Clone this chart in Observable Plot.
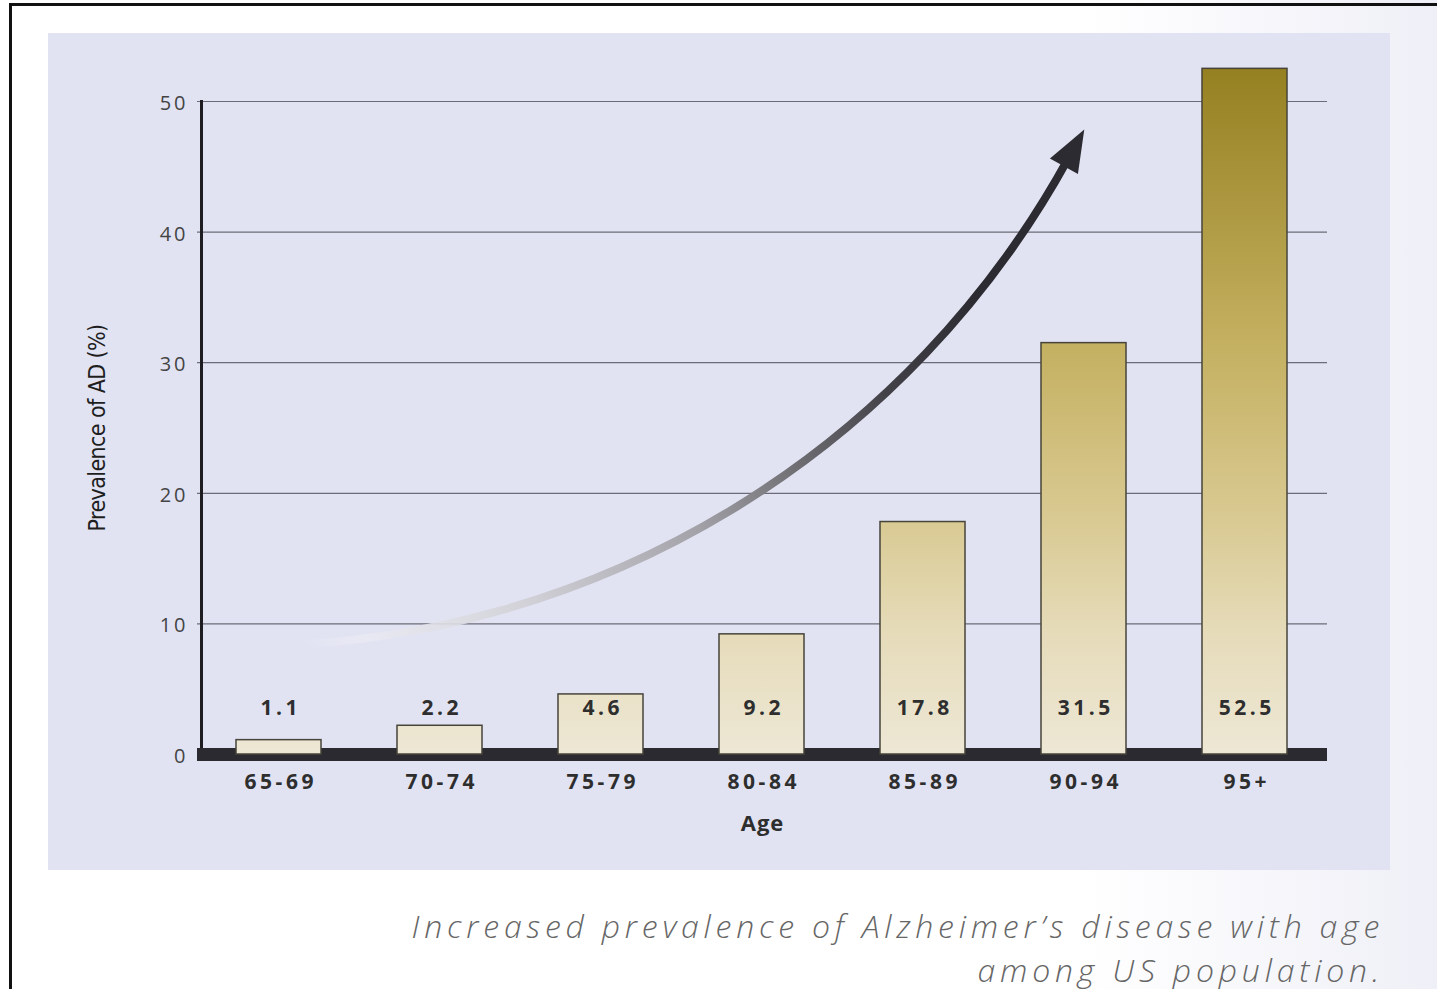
<!DOCTYPE html>
<html>
<head>
<meta charset="utf-8">
<script src="https://cdn.jsdelivr.net/npm/d3@7"></script>
<script src="https://cdn.jsdelivr.net/npm/@observablehq/plot@0.6"></script>
<style>
html, body { margin: 0; padding: 0; }
body {
  width: 1437px; height: 989px; overflow: hidden; position: relative;
  background: linear-gradient(to right, #ffffff 0%, #ffffff 75%, #eff0f7 100%);
  font-family: "Open Sans", sans-serif;
}
#border {
  position: absolute; left: 9px; top: 3px; width: 1440px; height: 1000px;
  border-top: 3px solid #111; border-left: 3px solid #111;
}
#panel {
  position: absolute; left: 48px; top: 33px; width: 1342px; height: 837px;
  background: #e1e3f3;
}
#panel svg { display: block; }
#caption {
  position: absolute; right: 53px; top: 904px;
  text-align: right; font-style: italic; font-weight: 300;
  font-size: 32px; line-height: 44px; letter-spacing: 4.8px; color: #666;
  font-family: "Open Sans", sans-serif; white-space: nowrap;
}
</style>
</head>
<body>
<div id="border"></div>
<div id="panel"></div>
<div id="caption"></div>
<script>
// ---- data ----
const ages = ["65-69", "70-74", "75-79", "80-84", "85-89", "90-94", "95+"];
const prevalence = [1.1, 2.2, 4.6, 9.2, 17.8, 31.5, 52.5];
const yTicks = [0, 10, 20, 30, 40, 50];
const gridValues = [10, 20, 30, 40, 50];
const yLabel = "Prevalence of AD (%)";
const xLabel = "Age";
const captionLines = ["Increased prevalence of Alzheimer\u2019s disease with age", "among US population."];
// trend arrow (annotation), endpoints in data units
const trendArrow = [{x1: "65-69", y1: 8.3, x2: "90-94", y2: 45.6}];

const data = ages.map((age, i) => ({age, value: prevalence[i]}));

// filled arrow head symbol
const headSymbol = {
  draw(context, size) {
    const r = Math.sqrt(size / Math.PI);
    const h = 4.2 * r, b = 3.2 * r;
    context.moveTo(0, -0.8 * h);
    context.lineTo(b / 2, 0.2 * h);
    context.lineTo(-b / 2, 0.2 * h);
    context.closePath();
  }
};

const chart = Plot.plot({
  width: 1342,
  height: 837,
  marginLeft: 149,
  marginRight: 63,
  marginTop: 68,
  marginBottom: 116,
  style: {background: "transparent", overflow: "visible", fontFamily: "Open Sans, sans-serif"},
  x: {type: "band", domain: ages, paddingInner: 0.47, paddingOuter: 0.235, axis: null},
  y: {domain: [0, 50], axis: null},
  marks: [
    Plot.ruleY(gridValues, {stroke: "#6c6c78", strokeWidth: 1.2}),
    Plot.arrow(trendArrow, {
      x1: "x1", y1: "y1", x2: "x2", y2: "y2", bend: -30,
      stroke: "url(#arrowGrad)", strokeWidth: 8, headLength: 0, dx: -16
    }),
    Plot.dot(trendArrow, {
      x: "x2", y: "y2", symbol: headSymbol, r: 10, rotate: 29,
      fill: "#2b2b31", stroke: "none", dx: -16
    }),
    Plot.frame({anchor: "left", stroke: "#1e1e22", strokeWidth: 3, dx: 4}),
    Plot.ruleY([0], {stroke: "#2a2a30", strokeWidth: 13}),
    Plot.barY(data, {x: "age", y: "value", fill: "url(#barGrad)", stroke: "#47443a", strokeWidth: 1.5}),
    Plot.text(data, {
      x: "age", text: d => d.value.toFixed(1), frameAnchor: "bottom", lineAnchor: "middle", dy: -46, dx: 1.75,
      fontSize: 21, fontWeight: 700, fill: "#2e2e2e"
    }),
    Plot.text(ages, {
      x: d => d, text: d => d, frameAnchor: "bottom", lineAnchor: "middle", dy: 28, dx: 1.75,
      fontSize: 21, fontWeight: 700, fill: "#2e2e2e"
    }),
    Plot.text(yTicks, {
      y: d => d, text: d => String(d), frameAnchor: "left", textAnchor: "end", lineAnchor: "middle",
      dx: -9, dy: 2, fontSize: 20, fill: "#444"
    }),
    Plot.text([xLabel], {
      frameAnchor: "bottom", lineAnchor: "middle", dy: 69, fontSize: 22, fontWeight: 700, fill: "#2e2e2e"
    }),
    Plot.text([yLabel], {
      frameAnchor: "left", textAnchor: "middle", lineAnchor: "middle", rotate: -90, dx: -100,
      fontSize: 23, fill: "#1e1e1e", fontFamily: "DejaVu Sans, sans-serif"
    })
  ]
});

// letter spacing / stretch applied to the rendered text by content
const valueSet = new Set(prevalence.map(v => v.toFixed(1)));
const ageSet = new Set(ages);
const tickSet = new Set(yTicks.map(String));
chart.querySelectorAll("text").forEach(t => {
  const s = t.textContent;
  if (valueSet.has(s) || ageSet.has(s)) t.style.letterSpacing = "3.5px";
  else if (tickSet.has(s)) t.style.letterSpacing = "3px";
  else if (s === xLabel) t.style.letterSpacing = "1px";
  else if (s === yLabel) { t.style.fontStretch = "condensed"; t.style.letterSpacing = "-0.6px"; }
});

// gradients positioned through the chart's own scales
const xs = chart.scale("x"), ys = chart.scale("y");
const cx = v => xs.apply(v) + xs.bandwidth / 2;
const defs = d3.select(chart).insert("defs", ":first-child");

const barGrad = defs.append("linearGradient")
  .attr("id", "barGrad").attr("gradientUnits", "userSpaceOnUse")
  .attr("x1", 0).attr("x2", 0)
  .attr("y1", ys.apply(0)).attr("y2", ys.apply(d3.max(prevalence)));
[[0, "#ede7d5"], [0.17, "#e6dcbb"], [0.34, "#d9ca93"], [0.6, "#c4b060"], [1, "#958021"]]
  .forEach(([o, c]) => barGrad.append("stop").attr("offset", o).attr("stop-color", c));

const a = trendArrow[0];
const arrowGrad = defs.append("linearGradient")
  .attr("id", "arrowGrad").attr("gradientUnits", "userSpaceOnUse")
  .attr("x1", cx(a.x1)).attr("y1", ys.apply(a.y1))
  .attr("x2", cx(a.x2)).attr("y2", ys.apply(a.y2));
[[0, "#eeeef6", 0], [0.06, "#eaeaf2", 0.8], [0.22, "#d2d2d8", 1], [0.42, "#a2a2a8", 1], [0.54, "#707075", 1], [0.67, "#414147", 1], [0.8, "#2b2b31", 1], [1, "#2b2b31", 1]]
  .forEach(([o, c, op]) => arrowGrad.append("stop").attr("offset", o).attr("stop-color", c).attr("stop-opacity", op));

document.getElementById("panel").appendChild(chart);
document.getElementById("caption").innerHTML = captionLines.join("<br>");
</script>
</body>
</html>
